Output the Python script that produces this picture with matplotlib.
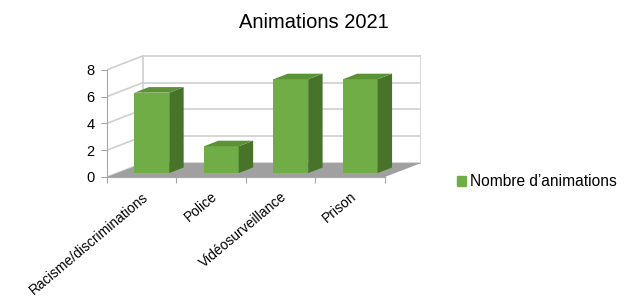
import numpy as np
import matplotlib.pyplot as plt
from matplotlib.patches import Polygon, Patch

categories = ["Racisme/discriminations", "Police", "Vidéosurveillance", "Prison"]
values = [6, 2, 7, 7]
series_name = "Nombre d\u2019animations"
yticks = [0, 2, 4, 6, 8]

plt.rcParams["font.family"] = ["Liberation Sans", "DejaVu Sans"]

FRONT = "#70ad47"
SIDE = "#48742a"
TOP = "#5b9236"
FLOOR = "#a0a0a0"
GRID = "#cfcfcf"
AXIS = "#a6a6a6"

# pseudo-3D depth vector in data units
DX, DY = 0.52, 1.04
f0, f1 = 0.28, 0.68   # bar front / back depth fractions

fig = plt.figure(figsize=(6.31, 2.98), dpi=100)
ax = fig.add_axes([107 / 631, (298 - 177) / 298, (421 - 107) / 631, 122 / 298])
n = len(categories)
ax.set_xlim(0, n + DX)
ax.set_ylim(0, 9.1)

# walls and floor
ax.add_patch(Polygon([(0, 0), (n, 0), (n + DX, DY), (DX, DY)],
                     closed=True, fc=FLOOR, ec="none", zorder=1))
top = yticks[-1]
for v in yticks:
    ax.plot([DX, n + DX], [v + DY, v + DY], color=GRID, lw=1.2, zorder=0.5)
    ax.plot([0, DX], [v, v + DY], color=GRID, lw=1.2, zorder=0.5)
ax.plot([DX, DX], [DY, top + DY], color=GRID, lw=1.2, zorder=0.5)
ax.plot([n + DX, n + DX], [DY, top + DY], color=GRID, lw=1.2, zorder=0.5)

# bars: front faces through ax.bar, sides and tops as polygons
x = np.arange(n) + 0.5 + f0 * DX
base = f0 * DY
w = 0.5
d = f1 - f0
ax.bar(x, values, width=w, bottom=base, color=FRONT, zorder=3)
for xi, h in zip(x, values):
    x0, x1 = xi - w / 2, xi + w / 2
    ax.add_patch(Polygon([(x1, base), (x1 + d * DX, base + d * DY),
                          (x1 + d * DX, base + h + d * DY), (x1, base + h)],
                         closed=True, fc=SIDE, ec="none", zorder=3))
    ax.add_patch(Polygon([(x0, base + h), (x1, base + h),
                          (x1 + d * DX, base + h + d * DY), (x0 + d * DX, base + h + d * DY)],
                         closed=True, fc=TOP, ec="none", zorder=3))

for s in ["top", "right"]:
    ax.spines[s].set_visible(False)
ax.spines["left"].set_bounds(0, top)
ax.spines["bottom"].set_bounds(0, n)
ax.spines["left"].set_color(AXIS)
ax.spines["bottom"].set_color(AXIS)
ax.set_yticks(yticks)
ax.tick_params(axis="y", length=4, color=AXIS, labelsize=10.5, pad=5)
ax.set_xticks(range(n + 1))
ax.set_xticklabels([])
ax.set_xticks(np.arange(n) + 0.5, minor=True)
ax.set_xticklabels(categories, minor=True, rotation=40, ha="right",
                   rotation_mode="anchor", fontsize=10)
ax.tick_params(axis="x", which="minor", length=0, pad=9)
ax.tick_params(axis="x", which="major", length=4, color=AXIS)

fig.suptitle("Animations 2021", x=0.497, y=0.955, fontsize=14.5)
fig.legend(handles=[Patch(color=FRONT, label=series_name)],
           loc="center left", bbox_to_anchor=(443 / 631, (298 - 182) / 298),
           frameon=False, fontsize=11.2, handlelength=0.55, handleheight=0.55,
           handletextpad=0.3)

fig.savefig("out.png", dpi=100)
